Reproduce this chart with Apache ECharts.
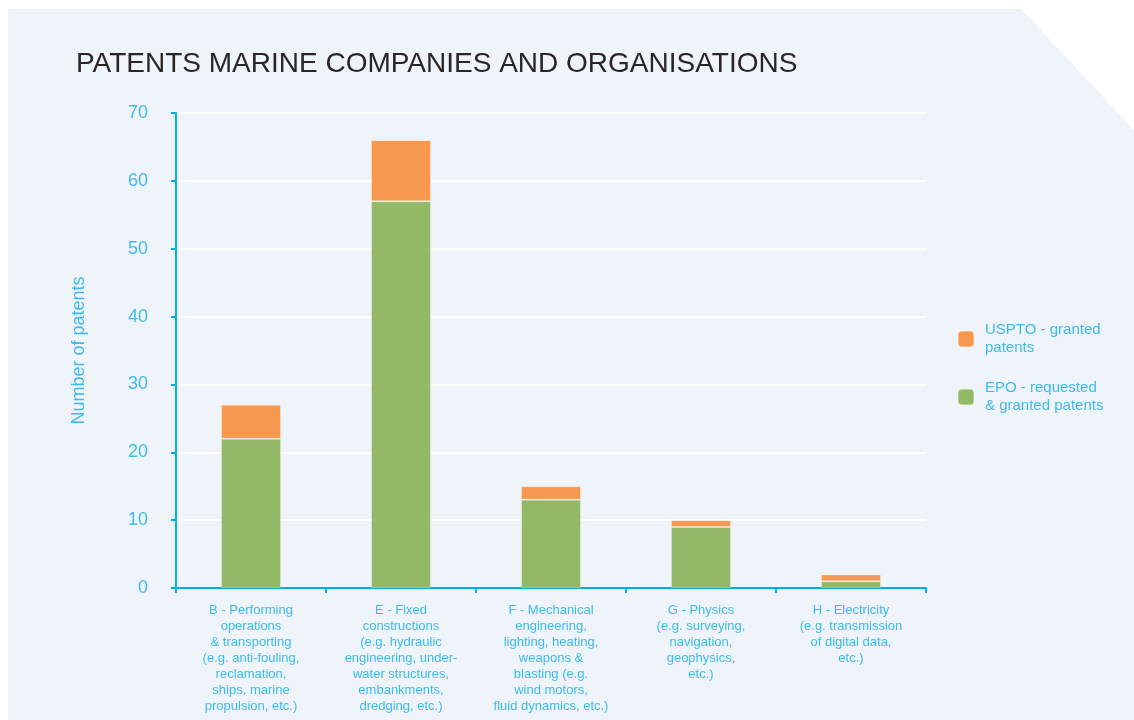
<!DOCTYPE html>
<html>
<head>
<meta charset="UTF-8">
<title>Patents marine companies and organisations</title>
<script src="https://cdn.jsdelivr.net/npm/echarts@6/dist/echarts.min.js"></script>
<style>
  html, body { margin: 0; padding: 0; background: #fff; }
  #main { width: 1134px; height: 720px; }
</style>
</head>
<body>
<div id="main"></div>
<script type="text/javascript">
// categories (patent classes)
var categories = [
    'B - Performing\noperations\n& transporting\n(e.g. anti-fouling,\nreclamation,\nships, marine\npropulsion, etc.)',
    'E - Fixed\nconstructions\n(e.g. hydraulic\nengineering, under-\nwater structures,\nembankments,\ndredging, etc.)',
    'F - Mechanical\nengineering,\nlighting, heating,\nweapons &\nblasting (e.g.\nwind motors,\nfluid dynamics, etc.)',
    'G - Physics\n(e.g. surveying,\nnavigation,\ngeophysics,\netc.)',
    'H - Electricity\n(e.g. transmission\nof digital data,\netc.)'
];
var epoValues = [22, 57, 13, 9, 1];
var usptoValues = [5, 9, 2, 1, 1];
var yTicks = [0, 10, 20, 30, 40, 50, 60, 70];

var blue = '#00aeef';
var labelBlue = '#3dbbee';
var font = '"Liberation Sans", Arial, sans-serif';

var myChart = echarts.init(document.getElementById('main'));
var option = {
    backgroundColor: '#ffffff',
    animation: false,
    textStyle: { fontFamily: font },
    graphic: [{
        type: 'polygon',
        z: -10,
        shape: { points: [[8, 9], [1021, 9], [1134, 130], [1134, 720], [8, 720]] },
        style: { fill: '#eff3fa' }
    }],
    title: {
        text: 'PATENTS MARINE COMPANIES AND ORGANISATIONS',
        left: 71,
        top: 45,
        textStyle: { fontSize: 28, fontWeight: 'normal', color: '#2a2628', fontFamily: font }
    },
    legend: {
        orient: 'vertical',
        left: 957,
        top: 321,
        padding: 0,
        itemWidth: 16,
        itemHeight: 16,
        itemGap: 22,
        data: ['USPTO - granted\npatents', 'EPO - requested\n& granted patents'],
        textStyle: { fontSize: 15, color: labelBlue, lineHeight: 18, padding: [0, 0, 0, 6] }
    },
    grid: { left: 176, right: 208, top: 113, bottom: 132 },
    xAxis: {
        type: 'category',
        data: categories,
        axisLine: { lineStyle: { color: blue, width: 2 } },
        axisTick: { show: true, length: 5, lineStyle: { color: blue, width: 2 } },
        axisLabel: { interval: 0, color: labelBlue, fontSize: 13, lineHeight: 16, margin: 14, align: 'center' }
    },
    yAxis: {
        type: 'value',
        min: 0,
        max: 70,
        interval: 10,
        name: 'Number of patents',
        nameLocation: 'middle',
        nameGap: 88,
        nameTextStyle: { color: labelBlue, fontSize: 18 },
        axisLine: { show: true, lineStyle: { color: blue, width: 2 } },
        axisTick: { show: true, length: 5, lineStyle: { color: blue, width: 2 } },
        axisLabel: {
            color: labelBlue, fontSize: 18, margin: 28,
            formatter: function (v) { return yTicks.indexOf(v) >= 0 ? String(v) : ''; }
        },
        splitLine: { lineStyle: { color: '#ffffff', width: 2 } }
    },
    series: [
        {
            name: 'EPO - requested\n& granted patents',
            type: 'bar',
            stack: 'total',
            barWidth: '40%',
            data: epoValues,
            itemStyle: { color: '#94b966', borderColor: 'rgba(255,255,255,0.3)', borderWidth: 1 }
        },
        {
            name: 'USPTO - granted\npatents',
            type: 'bar',
            stack: 'total',
            barWidth: '40%',
            data: usptoValues,
            itemStyle: { color: '#f7984f', borderColor: 'rgba(255,255,255,0.3)', borderWidth: 1 }
        }
    ]
};
myChart.setOption(option);
</script>
</body>
</html>
